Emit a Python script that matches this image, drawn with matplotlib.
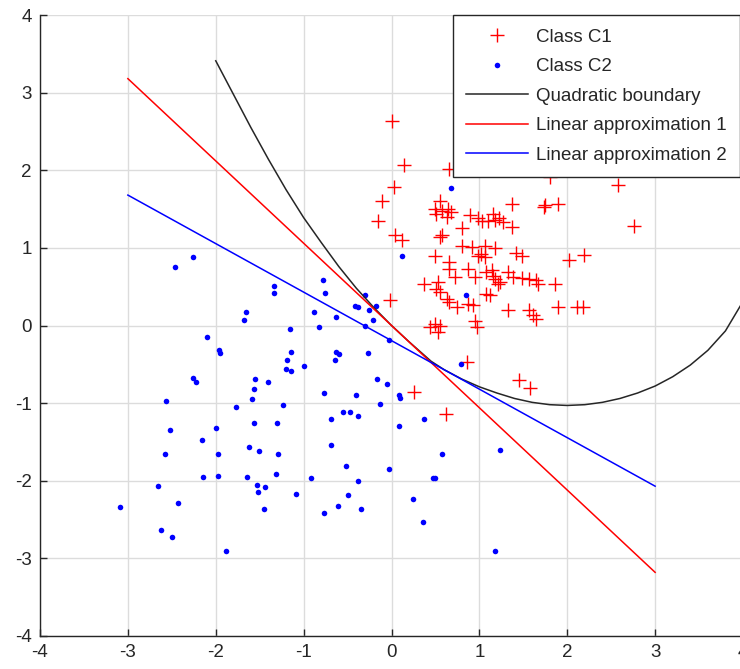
import matplotlib
matplotlib.use("Agg")
import matplotlib.pyplot as plt
import numpy as np

plt.rcParams['font.family'] = ['Liberation Sans', 'DejaVu Sans']
plt.rcParams['axes.unicode_minus'] = False

# --- DATA ---
c1_x = [0.00, 0.14, 0.03, -0.11, -0.15, 0.04, 0.12, -0.02, 0.26, 0.62, 0.65, 0.86,
        0.55, 0.50, 0.57, 0.64, 0.68, 0.63, 0.51, 0.89, 0.99, 1.03, 1.10, 1.16,
        1.18, 1.22, 1.27, 1.37, 1.37, 0.80, 0.57, 0.55, 0.80, 0.92, 1.06, 1.18,
        1.02, 0.98, 1.06, 0.50, 0.65, 1.42, 1.48,
        1.80, 2.58, 1.73, 1.75, 1.90, 2.76, 2.02, 2.19, 1.08, 1.14, 1.16, 1.18,
        1.33, 1.38, 1.48, 1.57, 1.64, 1.67, 1.86, 1.21, 1.12, 1.08, 1.33, 1.56,
        1.61, 1.65, 1.90, 2.11, 2.18, 1.45, 1.58,
        0.65, 0.72, 0.87, 0.95, 1.23, 0.37, 0.53, 0.51, 0.55, 0.63, 0.65, 0.74,
        0.87, 0.93, 0.49, 0.55, 0.44, 0.53, 0.95, 0.97]
c1_y = [2.63, 2.07, 1.79, 1.61, 1.35, 1.16, 1.10, 0.33, -0.86, -1.14, 2.02, -0.47,
        1.61, 1.50, 1.48, 1.50, 1.46, 1.40, 1.44, 1.42, 1.38, 1.35, 1.35, 1.44,
        1.36, 1.38, 1.33, 1.57, 1.27, 1.25, 1.16, 1.14, 1.03, 1.01, 1.03, 1.00,
        0.92, 0.90, 0.88, 0.90, 0.82, 0.94, 0.89,
        1.91, 1.81, 1.53, 1.55, 1.56, 1.28, 0.84, 0.91, 0.69, 0.71, 0.64, 0.60,
        0.69, 0.62, 0.61, 0.60, 0.58, 0.53, 0.54, 0.53, 0.39, 0.41, 0.20, 0.20,
        0.14, 0.09, 0.24, 0.24, 0.24, -0.70, -0.81,
        0.73, 0.62, 0.73, 0.62, 0.56, 0.54, 0.56, 0.47, 0.43, 0.34, 0.30, 0.24,
        0.28, 0.26, 0.02, 0.00, -0.02, -0.09, 0.06, -0.02]

c2_x = [-2.46, -2.26, -1.34, -1.34, -1.66, -1.68, -1.16, -2.10, -1.96, -1.95,
        -1.14, -1.19, -1.20, -1.14, -2.26, -2.23, -1.55, -1.41, -1.56, -1.59,
        -2.57, -1.77, -1.24,
        -2.52, -2.00, -1.57, -1.30, -2.16, -1.62, -1.51, -2.58, -1.97, -1.29,
        -1.31, -2.14, -1.98, -1.65, -1.53, -1.44, -1.52, -1.09, -2.66, -3.09,
        -2.43, -1.45, -2.62, -2.50, -1.88,
        0.12, -0.78, -0.76, -0.88, -0.63, -0.42, -0.38, -0.30, -0.26, -0.18,
        -0.21, -0.30, -0.82, -0.03, -0.63, -0.60, -0.64, -0.27, -1.00, -0.16,
        -0.05, -0.77, -0.40, 0.08, 0.10, -0.13, -0.55, -0.47, -0.38, -0.69,
        0.08, 0.37,
        -0.69, 0.58, 1.23, -0.52, -0.03, -0.92, -0.38, 0.47, 0.49, -0.49,
        0.24, -0.61, -0.35, -0.77, 0.36, 1.18,
        0.68, 0.85, 0.79]
c2_y = [0.76, 0.88, 0.51, 0.42, 0.17, 0.07, -0.04, -0.15, -0.31, -0.35,
        -0.34, -0.44, -0.56, -0.59, -0.67, -0.73, -0.69, -0.73, -0.82, -0.95,
        -0.97, -1.05, -1.02,
        -1.35, -1.32, -1.26, -1.25, -1.48, -1.57, -1.62, -1.66, -1.65, -1.66,
        -1.91, -1.95, -1.94, -1.95, -2.06, -2.08, -2.14, -2.17, -2.07, -2.34,
        -2.29, -2.36, -2.63, -2.72, -2.90,
        0.89, 0.59, 0.42, 0.18, 0.11, 0.25, 0.24, 0.39, 0.20, 0.25,
        0.07, -0.01, -0.02, -0.19, -0.34, -0.37, -0.45, -0.36, -0.52, -0.69,
        -0.75, -0.87, -0.90, -0.90, -0.94, -1.01, -1.11, -1.12, -1.16, -1.21,
        -1.30, -1.21,
        -1.54, -1.65, -1.60, -1.81, -1.85, -1.96, -2.00, -1.96, -1.96, -2.18,
        -2.23, -2.32, -2.36, -2.42, -2.53, -2.91,
        1.77, 0.39, -0.49]

# quadratic boundary
quad_x = [-2.0, -1.8, -1.6, -1.4, -1.2, -1.0, -0.8, -0.6, -0.4, -0.2,
          0.0, 0.2, 0.45, 0.6, 0.8, 1.0, 1.2, 1.4, 1.6, 1.8,
          2.0, 2.2, 2.4, 2.6, 2.8, 3.0, 3.2, 3.4, 3.6, 3.8,
          4.0, 4.05]
quad_y = [3.41, 2.98, 2.55, 2.14, 1.75, 1.39, 1.07, 0.76, 0.48, 0.23,
          0.00, -0.21, -0.46, -0.57, -0.69, -0.79, -0.87, -0.94, -0.99, -1.02,
          -1.03, -1.02, -0.99, -0.94, -0.87, -0.78, -0.66, -0.51, -0.32, -0.07,
          0.31, 0.41]

lin1_x = [-3, 3]
lin1_y = [3.18, -3.18]
lin2_x = [-3, 3]
lin2_y = [1.68, -2.07]

ticks = [-4, -3, -2, -1, 0, 1, 2, 3, 4]

# --- FIGURE ---
fig = plt.figure(figsize=(7.4, 6.69), dpi=100)
ax = fig.add_axes([40 / 740, 33 / 669, 703 / 740, 621 / 669])

ax.plot(c1_x, c1_y, '+', color='red', markersize=10, markeredgewidth=1.0,
        label='Class C1')
ax.plot(c2_x, c2_y, 'o', color='blue', markersize=4, markeredgewidth=0,
        label='Class C2')
ax.plot(quad_x, quad_y, '-', color='#262626', lw=1.1, label='Quadratic boundary')
ax.plot(lin1_x, lin1_y, '-', color='red', lw=1.1, label='Linear approximation 1')
ax.plot(lin2_x, lin2_y, '-', color='blue', lw=1.1, label='Linear approximation 2')

ax.set_xlim(-4, 4)
ax.set_ylim(-4, 4)
ax.set_xticks(ticks)
ax.set_yticks(ticks)
ax.grid(True, color='#dcdcdc', lw=1)
ax.set_axisbelow(True)
for s in ['top', 'right']:
    ax.spines[s].set_visible(False)
for s in ['left', 'bottom']:
    ax.spines[s].set_color('#262626')
    ax.spines[s].set_linewidth(1.0)
ax.tick_params(direction='in', length=5, width=1, color='#262626',
               labelsize=13.5, labelcolor='#262626', pad=6)

leg = ax.legend(loc='upper right', bbox_to_anchor=(740 / 740, 1 - 15 / 669),
                bbox_transform=fig.transFigure, fontsize=13.5, fancybox=False,
                framealpha=1, edgecolor='#262626', handlelength=3.3,
                handletextpad=0.4, labelspacing=0.66, borderpad=0.72,
                borderaxespad=0)
leg.get_frame().set_linewidth(1.0)
for t in leg.get_texts():
    t.set_color('#262626')

fig.savefig('out.png', dpi=100)
